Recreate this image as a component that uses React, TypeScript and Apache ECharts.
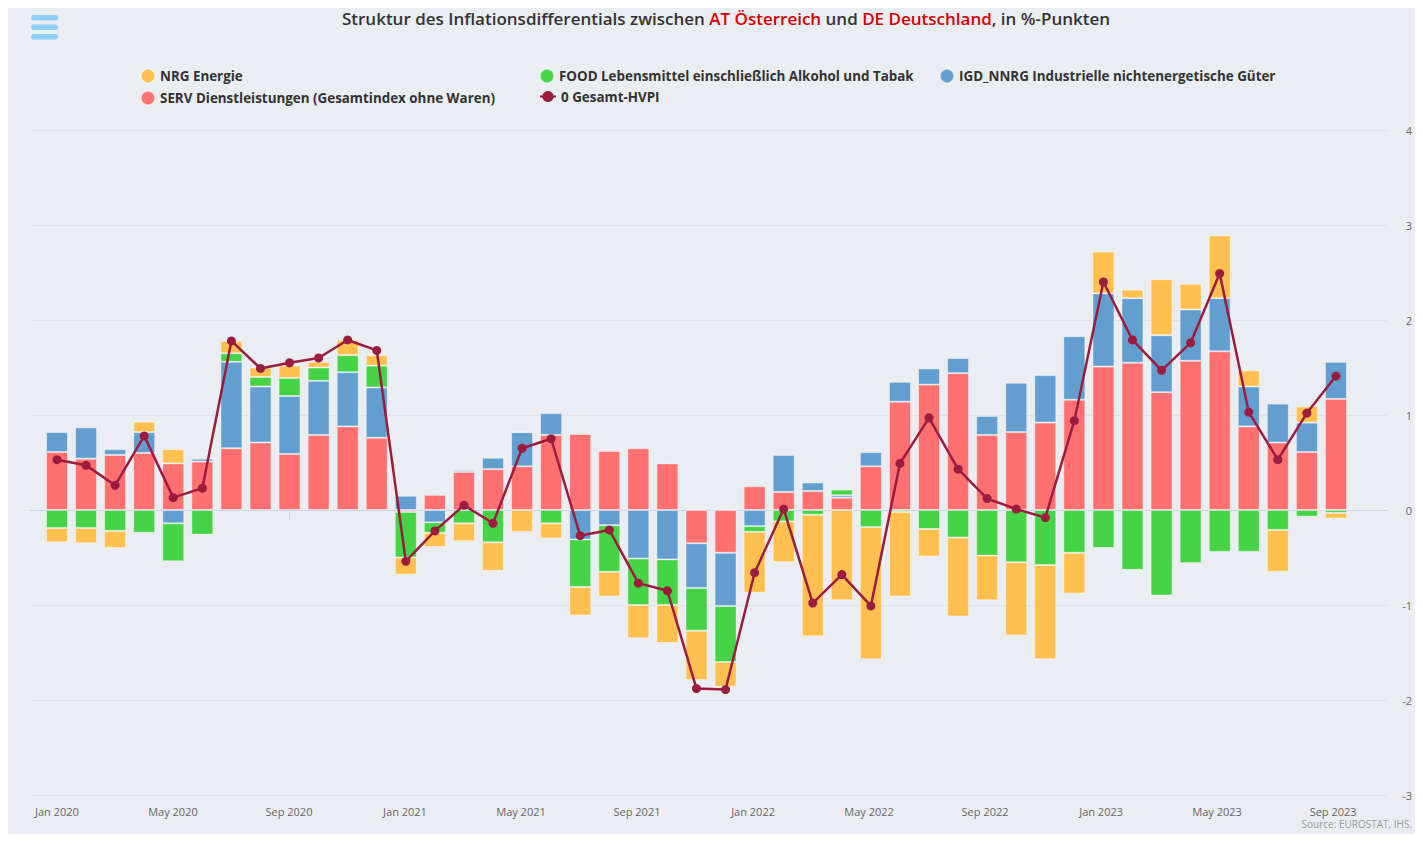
import React, { useEffect, useRef } from 'react';
import * as echarts from 'echarts';

const months = [
  'Jan 2020', 'Feb 2020', 'Mar 2020', 'Apr 2020', 'May 2020', 'Jun 2020', 'Jul 2020', 'Aug 2020', 'Sep 2020', 'Oct 2020', 'Nov 2020', 'Dec 2020',
  'Jan 2021', 'Feb 2021', 'Mar 2021', 'Apr 2021', 'May 2021', 'Jun 2021', 'Jul 2021', 'Aug 2021', 'Sep 2021', 'Oct 2021', 'Nov 2021', 'Dec 2021',
  'Jan 2022', 'Feb 2022', 'Mar 2022', 'Apr 2022', 'May 2022', 'Jun 2022', 'Jul 2022', 'Aug 2022', 'Sep 2022', 'Oct 2022', 'Nov 2022', 'Dec 2022',
  'Jan 2023', 'Feb 2023', 'Mar 2023', 'Apr 2023', 'May 2023', 'Jun 2023', 'Jul 2023', 'Aug 2023', 'Sep 2023',
];

const tickMonths = [0, 4, 8, 12, 16, 20, 24, 28, 32, 36, 40, 44];

const serv = [
  0.61, 0.54, 0.58, 0.60, 0.49, 0.51, 0.65, 0.71, 0.59, 0.79, 0.88, 0.76,
  -0.02, 0.16, 0.40, 0.43, 0.46, 0.79, 0.80, 0.62, 0.65, 0.49, -0.35, -0.45,
  0.25, 0.19, 0.20, 0.13, 0.46, 1.14, 1.32, 1.44, 0.79, 0.82, 0.92, 1.16,
  1.51, 1.55, 1.24, 1.57, 1.67, 0.88, 0.71, 0.61, 1.17,
];

const igd = [
  0.21, 0.33, 0.06, 0.22, -0.14, 0.03, 0.91, 0.59, 0.61, 0.57, 0.57, 0.53,
  0.15, -0.13, 0.02, 0.12, 0.36, 0.23, -0.31, -0.16, -0.51, -0.52, -0.47, -0.56,
  -0.17, 0.39, 0.09, 0.025, 0.15, 0.21, 0.17, 0.16, 0.20, 0.52, 0.50, 0.67,
  0.77, 0.68, 0.60, 0.54, 0.56, 0.42, 0.41, 0.31, 0.39,
];

const food = [
  -0.19, -0.19, -0.22, -0.24, -0.40, -0.26, 0.09, 0.10, 0.19, 0.14, 0.18, 0.23,
  -0.48, -0.11, -0.14, -0.34, 0, -0.14, -0.50, -0.49, -0.49, -0.48, -0.45, -0.59,
  -0.06, -0.12, -0.05, 0.06, -0.18, -0.02, -0.20, -0.29, -0.48, -0.55, -0.58, -0.45,
  -0.40, -0.63, -0.90, -0.56, -0.44, -0.44, -0.21, -0.07, -0.03,
];

const nrg = [
  -0.15, -0.16, -0.18, 0.11, 0.15, 0, 0.13, 0.10, 0.13, 0.06, 0.16, 0.11,
  -0.18, -0.15, -0.19, -0.30, -0.23, -0.16, -0.30, -0.26, -0.35, -0.40, -0.52, -0.26,
  -0.64, -0.43, -1.28, -0.95, -1.39, -0.89, -0.29, -0.83, -0.47, -0.77, -0.99, -0.43,
  0.44, 0.09, 0.59, 0.27, 0.66, 0.17, -0.44, 0.17, -0.06,
];

const total = [
  0.53, 0.47, 0.26, 0.78, 0.13, 0.23, 1.78, 1.49, 1.55, 1.60, 1.79, 1.68,
  -0.54, -0.22, 0.05, -0.14, 0.65, 0.75, -0.27, -0.21, -0.77, -0.85, -1.88, -1.89,
  -0.66, 0.01, -0.98, -0.68, -1.01, 0.49, 0.97, 0.43, 0.12, 0.01, -0.08, 0.94,
  2.40, 1.79, 1.47, 1.76, 2.49, 1.03, 0.53, 1.02, 1.41,
];

const NAME_NRG = 'NRG Energie';
const NAME_FOOD = 'FOOD Lebensmittel einschließlich Alkohol und Tabak';
const NAME_IGD = 'IGD_NNRG Industrielle nichtenergetische Güter';
const NAME_SERV = 'SERV Dienstleistungen (Gesamtindex ohne Waren)';
const NAME_TOTAL = '0 Gesamt-HVPI';

const FONT = '"Open Sans", "Liberation Sans", sans-serif';

export default function App() {
  const ref = useRef<HTMLDivElement>(null);

  useEffect(() => {
    const chart = echarts.init(ref.current as HTMLDivElement, null, { renderer: 'svg' });

    const barBase = {
      type: 'bar',
      stack: 'total',
      barWidth: 22,
      xAxisIndex: 1,
      yAxisIndex: 1,
      emphasis: { disabled: true },
    };
    const border = { borderColor: 'rgba(255,255,255,0.45)', borderWidth: 1 };

    const legendBase = {
      padding: 0,
      itemWidth: 14,
      itemHeight: 14,
      itemGap: 0,
      textStyle: { fontFamily: FONT, fontSize: 13.4, fontWeight: 'bold', color: '#333' },
    };

    const option: any = {
      animation: false,
      backgroundColor: '#eaedf2',
      textStyle: { fontFamily: FONT },
      title: {
        text: 'Struktur des Inflationsdifferentials zwischen {r|AT Österreich} und {r|DE Deutschland}, in %-Punkten',
        left: 718,
        textAlign: 'center',
        top: 2,
        padding: 0,
        textStyle: {
          fontFamily: FONT,
          fontSize: 17,
          fontWeight: 600,
          color: '#333',
          rich: { r: { color: '#d60000', fontSize: 17, fontWeight: 600, fontFamily: FONT } },
        },
      },
      legend: [
        { ...legendBase, data: [{ name: NAME_NRG, icon: 'circle' }], left: 132, top: 60 },
        { ...legendBase, data: [{ name: NAME_FOOD, icon: 'circle' }], left: 531, top: 60 },
        { ...legendBase, data: [{ name: NAME_IGD, icon: 'circle' }], left: 931, top: 60 },
        { ...legendBase, data: [{ name: NAME_SERV, icon: 'circle' }], left: 132, top: 82 },
        { ...legendBase, itemWidth: 16, data: [{ name: NAME_TOTAL }], left: 531, top: 82 },
      ],
      grid: [
        { left: 22, right: 25, top: 122, bottom: 39, containLabel: false },
        { left: 34.47, right: 64.5, top: 122, bottom: 39, containLabel: false },
      ],
      xAxis: [
        {
          type: 'value',
          gridIndex: 0,
          min: -0.929,
          max: 45.858,
          axisLine: { show: true, lineStyle: { color: '#ccd6eb', width: 1 } },
          axisTick: { show: true, length: 10, lineStyle: { color: '#ccd6eb' }, customValues: tickMonths },
          axisLabel: {
            customValues: tickMonths,
            formatter: (v: number) => months[Math.round(v)] || '',
            fontSize: 11,
            color: '#666',
            fontFamily: FONT,
            margin: 11,
          },
          splitLine: { show: false },
        },
        {
          type: 'category',
          gridIndex: 1,
          data: months,
          boundaryGap: true,
          show: false,
        },
      ],
      yAxis: [
        {
          type: 'value',
          gridIndex: 0,
          position: 'right',
          min: -3,
          max: 4,
          interval: 1,
          axisLine: { show: false },
          axisTick: { show: false },
          axisLabel: { fontSize: 11, color: '#666', fontFamily: FONT, align: 'right', margin: 25 },
          splitLine: { lineStyle: { color: '#e0e2e6', width: 1 } },
        },
        {
          type: 'value',
          gridIndex: 1,
          min: -3,
          max: 4,
          interval: 1,
          show: false,
          splitLine: { show: false },
        },
      ],
      series: [
        { ...barBase, name: NAME_SERV, data: serv, itemStyle: { ...border, color: '#ff7070' } },
        { ...barBase, name: NAME_IGD, data: igd, itemStyle: { ...border, color: '#629fd0' } },
        { ...barBase, name: NAME_FOOD, data: food, itemStyle: { ...border, color: '#45d445' } },
        { ...barBase, name: NAME_NRG, data: nrg, itemStyle: { ...border, color: '#ffc04f' } },
        {
          type: 'line',
          name: NAME_TOTAL,
          xAxisIndex: 1,
          yAxisIndex: 1,
          data: total,
          z: 5,
          symbol: 'circle',
          symbolSize: 9,
          lineStyle: { color: '#9b1c3e', width: 2.5 },
          itemStyle: { color: '#9b1c3e' },
          emphasis: { disabled: true },
        },
      ],
      graphic: [
        { type: 'rect', shape: { x: 23, y: 7, width: 27, height: 5.5, r: 2.5 }, style: { fill: '#8ccff7' } },
        { type: 'rect', shape: { x: 23, y: 16.5, width: 27, height: 5.5, r: 2.5 }, style: { fill: '#8ccff7' } },
        { type: 'rect', shape: { x: 23, y: 26, width: 27, height: 5.5, r: 2.5 }, style: { fill: '#8ccff7' } },
        {
          type: 'text',
          right: 3,
          top: 811,
          style: { text: 'Source: EUROSTAT, IHS.', fontSize: 10, fill: '#999', fontFamily: FONT },
        },
      ],
    };

    chart.setOption(option);
    return () => chart.dispose();
  }, []);

  return <div ref={ref} style={{ width: 1407, height: 826, background: '#eaedf2' }} />;
}
